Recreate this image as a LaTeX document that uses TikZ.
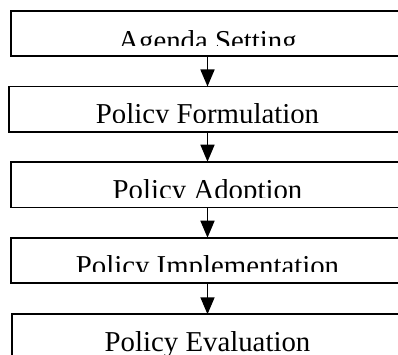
\documentclass[tikz,border=0pt]{standalone}
\usepackage{fontspec}
\setmainfont{Liberation Serif}
\usetikzlibrary{arrows.meta}
\tikzset{
  box/.style={draw=black, line width=1.8pt, rectangle, inner sep=0pt, outer sep=0pt, fill=none},
  lbl/.style={inner sep=0pt, outer sep=0pt, anchor=base, font=\fontsize{28.8}{32}\selectfont},
  arr/.style={line width=1.6pt, -{Triangle[length=17pt,width=14pt]}}
}
\begin{document}
\begin{tikzpicture}[x=1pt,y=-1pt]
\useasboundingbox (0,0) rectangle (398,355);
\clip (0,0) rectangle (398,355);
\node[box, minimum width=393pt, minimum height=45.3pt] (b1) at (207.5,33.35) {};
\node[box, minimum width=397pt, minimum height=45.2pt] (b2) at (207.5,109.1) {};
\node[box, minimum width=393pt, minimum height=45.8pt] (b3) at (207.5,184.6) {};
\node[box, minimum width=393pt, minimum height=45.6pt] (b4) at (207.5,260.5) {};
\node[box, minimum width=391pt, minimum height=45.7pt] (b5) at (207.5,337.15) {};
\begin{scope}
  \clip (0,12) rectangle (398,45.5);
  \node[lbl] (t1) at (207.5,50.1) {Agenda Setting};
\end{scope}
\begin{scope}
  \clip (0,88) rectangle (398,122.7);
  \node[lbl] (t2) at (207.5,123.1) {Policy Formulation};
\end{scope}
\begin{scope}
  \clip (0,163) rectangle (398,197.3);
  \node[lbl] (t3) at (207.5,199.1) {Policy Adoption};
\end{scope}
\begin{scope}
  \clip (0,239) rectangle (398,271.7);
  \node[lbl] (t4) at (207.5,275.8) {Policy Implementation};
\end{scope}
\node[lbl] (t5) at (207.5,351.4) {Policy Evaluation};
\draw[arr] (b1.south) -- (b2.north);
\draw[arr] (b2.south) -- (b3.north);
\draw[arr] (b3.south) -- (b4.north);
\draw[arr] (b4.south) -- (b5.north);
\end{tikzpicture}
\end{document}
